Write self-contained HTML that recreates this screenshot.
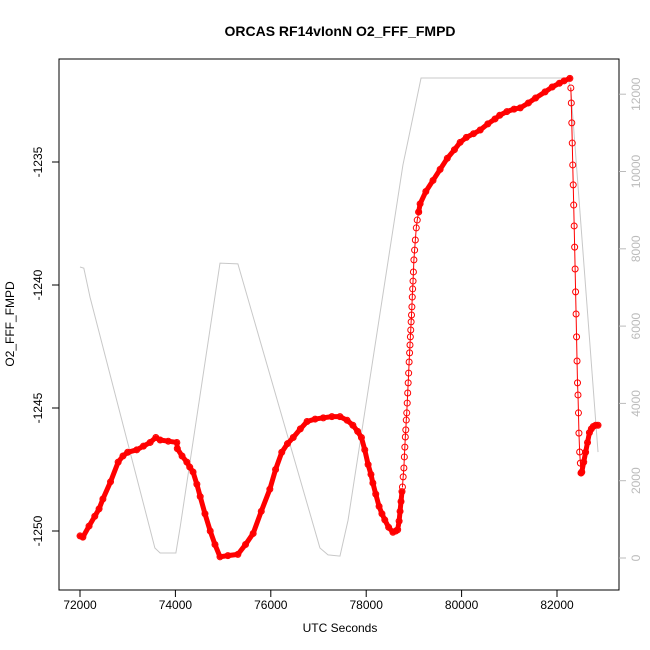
<!DOCTYPE html>
<html><head><meta charset="utf-8"><style>
html,body{margin:0;padding:0;background:#fff;}
svg{display:block;font-family:"Liberation Sans",Arial,sans-serif;}
</style></head><body>
<svg id="chart" width="650" height="650" viewBox="0 0 650 650">
<text x="340" y="36" text-anchor="middle" font-size="14" font-weight="bold">ORCAS RF14vIonN O2_FFF_FMPD</text>
<text x="340" y="632" text-anchor="middle" font-size="12">UTC Seconds</text>
<text x="14" y="324" text-anchor="middle" font-size="12" transform="rotate(-90 14 324)">O2_FFF_FMPD</text>
<rect x="59" y="59" width="560" height="531" fill="none" stroke="#000" stroke-width="1"/>
<g id="axes"></g>
<g id="grey"></g>
<g id="red"></g>
</svg>
<script>
const xTicks=[72000,74000,76000,78000,80000,82000];
const yTicks=[-1250,-1245,-1240,-1235];
const rTicks=[0,2000,4000,6000,8000,10000,12000];
const greyT=[72000,72080,72210,73570,73680,74010,74100,74935,75310,77030,77200,77450,77620,78770,78880,79150,82230,82290,82860];
const greyV=[7530,7500,6750,260,130,130,800,7630,7610,260,80,50,980,10170,10815,12420,12420,12100,2740];
const denseT=[72000,72060,72190,72310,72400,72480,72640,72800,72900,73000,73190,73330,73470,73590,73680,73850,74030,74040,74140,74240,74300,74370,74450,74520,74620,74730,74830,74935,75100,75310,75470,75630,75800,75980,76100,76230,76350,76470,76620,76760,76930,77100,77280,77450,77600,77720,77820,77900,77970,78040,78100,78140,78200,78270,78330,78390,78470,78560,78620,78660,78690,78710,78730,78750];
const denseV=[-1250.2,-1250.25,-1249.8,-1249.4,-1249.1,-1248.7,-1248.0,-1247.2,-1246.95,-1246.8,-1246.7,-1246.55,-1246.4,-1246.2,-1246.3,-1246.35,-1246.4,-1246.65,-1246.95,-1247.2,-1247.4,-1247.6,-1248.1,-1248.6,-1249.3,-1250.0,-1250.55,-1251.05,-1251.0,-1250.95,-1250.55,-1250.1,-1249.2,-1248.3,-1247.5,-1246.8,-1246.45,-1246.2,-1245.85,-1245.55,-1245.45,-1245.4,-1245.35,-1245.35,-1245.5,-1245.7,-1245.95,-1246.2,-1246.7,-1247.3,-1247.7,-1248.05,-1248.5,-1249.0,-1249.3,-1249.55,-1249.85,-1250.05,-1250.0,-1249.95,-1249.6,-1249.2,-1248.8,-1248.4];
const ascentT=[78760,78775,78790,78800,78810,78820,78830,78840,78850,78860,78870,78880,78890,78900,78910,78918,78926,78934,78942,78950,78958,78966,78974,78982,78990,79000,79015,79030,79050,79070,79100];
const ascentV=[-1248.21,-1247.80,-1247.44,-1246.99,-1246.59,-1246.18,-1245.89,-1245.49,-1245.20,-1244.80,-1244.39,-1243.98,-1243.58,-1243.13,-1242.76,-1242.44,-1242.11,-1241.83,-1241.50,-1241.22,-1240.89,-1240.49,-1240.16,-1239.84,-1239.47,-1238.98,-1238.58,-1238.17,-1237.68,-1237.36,-1237.03];
const upperT=[79100,79130,79250,79400,79550,79700,79850,79970,80100,80250,80390,80550,80700,80800,80950,81100,81230,81400,81550,81750,81900,82050,82150,82270];
const upperV=[-1237.03,-1236.7,-1236.2,-1235.75,-1235.3,-1234.85,-1234.5,-1234.2,-1234.0,-1233.85,-1233.7,-1233.45,-1233.25,-1233.1,-1232.95,-1232.85,-1232.8,-1232.6,-1232.4,-1232.15,-1231.95,-1231.8,-1231.7,-1231.6];
const descentT=[82290,82300,82310,82320,82330,82340,82350,82360,82370,82380,82390,82400,82410,82420,82430,82440,82450,82460,82475,82490,82505];
const descentV=[-1231.99,-1232.60,-1233.41,-1234.23,-1235.12,-1235.93,-1236.75,-1237.60,-1238.46,-1239.35,-1240.28,-1241.18,-1242.11,-1243.09,-1243.98,-1244.47,-1245.20,-1246.02,-1246.79,-1247.24,-1247.64];
const tailT=[82505,82520,82560,82600,82640,82680,82720,82760,82810,82860];
const tailV=[-1247.64,-1247.6,-1247.2,-1246.8,-1246.4,-1246.0,-1245.85,-1245.75,-1245.7,-1245.7];

const NS="http://www.w3.org/2000/svg";
const X=t=>80+(t-72000)*0.0477;
const Y=v=>162+(-1235-v)*24.6;
const YR=v=>558-v*77.3/2000;
function mk(tag,attrs,parent){const e=document.createElementNS(NS,tag);for(const k in attrs)e.setAttribute(k,attrs[k]);parent.appendChild(e);return e;}
const ax=document.getElementById('axes');
xTicks.forEach(t=>{
  const l=mk('line',{x1:X(t),x2:X(t),y1:590,y2:597,stroke:'#000'},ax);
  
  
  const tx=mk('text',{x:X(t),y:609,'text-anchor':'middle','font-size':12},ax);tx.textContent=t;
  
  
});
mk('line',{x1:X(72000),x2:X(82000),y1:590,y2:590,stroke:'#000'},ax);
yTicks.forEach(v=>{
  const l=mk('line',{x1:52,x2:59,y1:Y(v),y2:Y(v),stroke:'#000'},ax);
  
  
  const tx=mk('text',{x:42,y:Y(v),'text-anchor':'middle','font-size':12,transform:`rotate(-90 42 ${Y(v)})`},ax);tx.textContent=v;
  
  
});
rTicks.forEach(v=>{
  const l=mk('line',{x1:619,x2:626,y1:YR(v),y2:YR(v),stroke:'#bbb'},ax);
  
  
  const tx=mk('text',{x:640,y:YR(v),'text-anchor':'middle','font-size':12,fill:'#bbb',transform:`rotate(-90 640 ${YR(v)})`},ax);tx.textContent=v;
  
  
});
const g=document.getElementById('grey');
const gl=mk('polyline',{points:greyT.map((t,i)=>X(t)+','+YR(greyV[i])).join(' '),fill:'none',stroke:'#c8c8c8','stroke-width':1},g);


const r=document.getElementById('red');
function series(T,V,thick,name){
  const pl=mk('polyline',{points:T.map((t,i)=>X(t)+','+Y(V[i])).join(' '),fill:'none',stroke:'#f00','stroke-width':thick?5:1,'stroke-linejoin':'round','stroke-linecap':'round'},r);
  
  
  T.forEach((t,i)=>{
    const c=mk('circle',{cx:X(t),cy:Y(V[i]),r:3,fill:'none',stroke:'#f00','stroke-width':1},r);
    
    
  });
}
series(denseT,denseV,true,'o2-dense');
series(ascentT,ascentV,false,'o2-ascent');
series(upperT,upperV,true,'o2-upper');
series(descentT,descentV,false,'o2-descent');
series(tailT,tailV,true,'o2-tail');
</script>
</body></html>
